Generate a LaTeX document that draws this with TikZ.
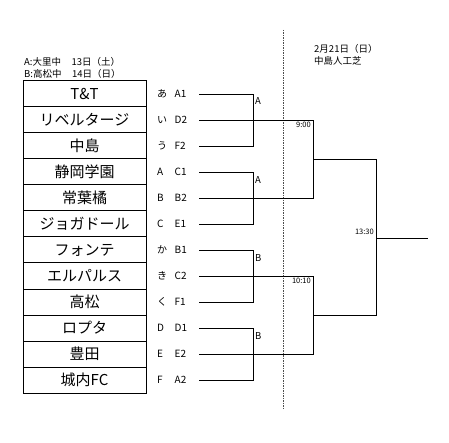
\documentclass[tikz,border=0pt]{standalone}
\usepackage{fontspec}
\setmainfont{Noto Sans CJK JP}
\newcommand{\seed}[2]{\makebox[1.75em][l]{#1}#2}

\begin{document}
\begin{tikzpicture}[x=1pt,y=-1pt,team/.style={draw,line width=1pt,minimum width=123pt,minimum height=26pt,inner sep=0pt,font=\fontsize{15}{17}\selectfont},seed/.style={anchor=west,text width=40pt,inner sep=2pt,font=\fontsize{10}{12}\selectfont},line/.style={line width=0.9pt},note/.style={inner sep=1pt,font=\fontsize{9.5}{11.5}\selectfont},time/.style={inner sep=1pt,font=\fontsize{7.5}{8}\selectfont}]
\useasboundingbox (0,0) rectangle (449,443);
\node[note,anchor=west,align=left] (hd1) at (23,68) {A:大里中\hspace{1.1em}13日（土）\\B:高松中\hspace{1.1em}14日（日）};
\node[note,anchor=west,align=left] (hd2) at (313,55) {2月21日（日）\\中島人工芝};
% teams
\node[team] (t1) at (84.5,94) {T\&T};
\node[team] (t2) at (84.5,120) {リベルタージ};
\node[team] (t3) at (84.5,146) {中島};
\node[team] (t4) at (84.5,172) {静岡学園};
\node[team] (t5) at (84.5,198) {常葉橘};
\node[team] (t6) at (84.5,224) {ジョガドール};
\node[team] (t7) at (84.5,250) {フォンテ};
\node[team] (t8) at (84.5,276) {エルパルス};
\node[team] (t9) at (84.5,302) {高松};
\node[team] (t10) at (84.5,328) {ロプタ};
\node[team] (t11) at (84.5,354) {豊田};
\node[team] (t12) at (84.5,380) {城内FC};
% seeds
\node[seed] (l1) at (155,94) {\seed{あ}{A1}};
\node[seed] (l2) at (155,120) {\seed{い}{D2}};
\node[seed] (l3) at (155,146) {\seed{う}{F2}};
\node[seed] (l4) at (155,172) {\seed{A}{C1}};
\node[seed] (l5) at (155,198) {\seed{B}{B2}};
\node[seed] (l6) at (155,224) {\seed{C}{E1}};
\node[seed] (l7) at (155,250) {\seed{か}{B1}};
\node[seed] (l8) at (155,276) {\seed{き}{C2}};
\node[seed] (l9) at (155,302) {\seed{く}{F1}};
\node[seed] (l10) at (155,328) {\seed{D}{D1}};
\node[seed] (l11) at (155,354) {\seed{E}{E2}};
\node[seed] (l12) at (155,380) {\seed{F}{A2}};
% bracket points
\coordinate (a1) at (253,94);
\coordinate (a2) at (253,172);
\coordinate (a3) at (253,250);
\coordinate (a4) at (253,328);
\coordinate (m1) at (313,120);
\coordinate (m2) at (313,276);
\coordinate (k1) at (313,159);
\coordinate (k2) at (313,315);
\coordinate (f1) at (376,159);
\coordinate (c1) at (376,238);
\coordinate (w1) at (428,238);
\coordinate (dtop) at (283,30);
\coordinate (dbot) at (283,408);
\draw[line width=0.5pt,dash pattern=on 1.5pt off 1pt,black!70] (dtop) -- (dbot);
\draw[line] (l1.east) -- (a1) |- (l3.east);
\draw[line] (l4.east) -- (a2) |- (l6.east);
\draw[line] (l7.east) -- (a3) |- (l9.east);
\draw[line] (l10.east) -- (a4) |- (l12.east);
\draw[line] (l2.east) -- (m1) |- (l5.east);
\draw[line] (l8.east) -- (m2) |- (l11.east);
\draw[line] (k1) -- (f1) |- (k2);
\draw[line] (c1) -- (w1);
% labels
\node[note,anchor=west] (g1) at (254,101) {A};
\node[note,anchor=west] (g2) at (254,180) {A};
\node[note,anchor=west] (g3) at (254,258) {B};
\node[note,anchor=west] (g4) at (254,336) {B};
\node[time,anchor=north east] (s1) at (312,121) {9:00};
\node[time,anchor=north east] (s2) at (312,277) {10:10};
\node[time,anchor=south east] (s3) at (375,236) {13:30};
\end{tikzpicture}
\end{document}
